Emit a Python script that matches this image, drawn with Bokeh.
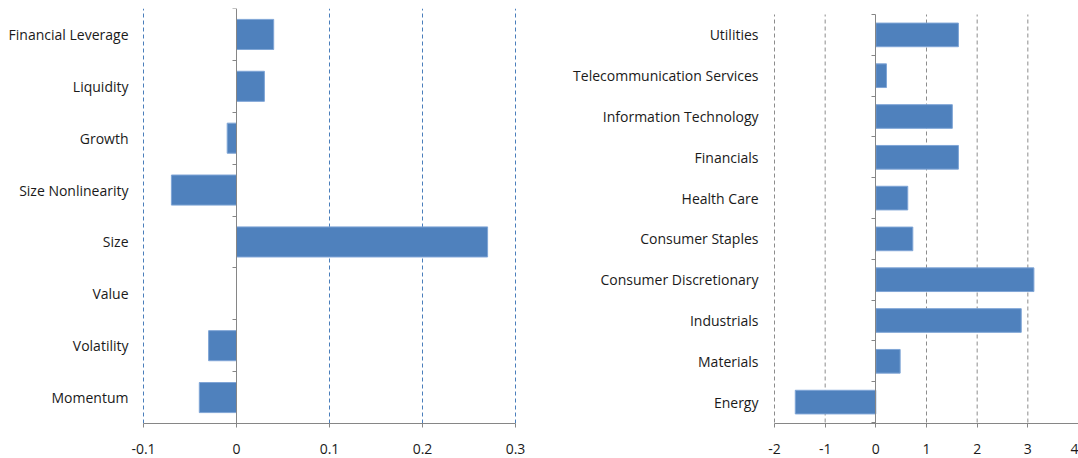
from bokeh.plotting import figure
from bokeh.layouts import row
from bokeh.models import Range1d, LinearAxis, FixedTicker
from bokeh.embed import file_html
from bokeh.resources import INLINE

# Style factor exposures (top to bottom)
factor_names = ["Financial Leverage", "Liquidity", "Growth", "Size Nonlinearity",
                "Size", "Value", "Volatility", "Momentum"]
factor_exposure = [0.04, 0.03, -0.01, -0.07, 0.27, 0.0, -0.03, -0.04]
factor_ticks = [-0.1, 0, 0.1, 0.2, 0.3]
factor_tick_labels = ["-0.1", "0", "0.1", "0.2", "0.3"]

# Sector exposures (top to bottom)
sector_names = ["Utilities", "Telecommunication Services", "Information Technology",
                "Financials", "Health Care", "Consumer Staples",
                "Consumer Discretionary", "Industrials", "Materials", "Energy"]
sector_exposure = [1.63, 0.21, 1.51, 1.63, 0.63, 0.73, 3.12, 2.87, 0.48, -1.59]
sector_ticks = [-2, -1, 0, 1, 2, 3, 4]
sector_tick_labels = ["-2", "-1", "0", "1", "2", "3", "4"]

BAR = "#4F81BD"
BAR_EDGE = "#7FA5D6"
AXIS = "#868686"
TEXT = "#1a1a1a"
FONT = "Open Sans"
FRAME_TOP = 8
FRAME_H = 415
FRAME_BOTTOM = 35


def bar_panel(names, values, ticks, tick_labels, grid_color,
              frame_w, left, right, pad_top, pad_bottom, pad_l, pad_r, label_gap):
    n = len(names)
    # first name sits in the top slot
    centers = [n - i - 0.5 for i in range(n)]
    slot = (FRAME_H - pad_top - pad_bottom) / n
    y0 = -pad_bottom / slot
    y1 = n + pad_top / slot
    # a pixel of room either side so the edge gridlines are not clipped
    unit = (ticks[-1] - ticks[0]) / frame_w
    x0 = ticks[0] - pad_l * unit
    x1 = ticks[-1] + pad_r * unit
    p = figure(
        title=None,
        y_range=Range1d(y0, y1),
        x_range=Range1d(x0, x1),
        frame_width=frame_w + pad_l + pad_r, frame_height=FRAME_H,
        min_border_left=left - pad_l, min_border_right=right - pad_r,
        min_border_top=FRAME_TOP, min_border_bottom=FRAME_BOTTOM,
        output_backend="svg", toolbar_location=None,
        background_fill_color="white", border_fill_color="white",
    )
    p.outline_line_color = None
    p.xgrid.grid_line_color = None
    p.ygrid.grid_line_color = None

    # dashed vertical gridlines spanning the category area
    grid_x = [t for t in ticks if t != 0]
    p.segment(x0=grid_x, x1=grid_x, y0=[0] * len(grid_x), y1=[n] * len(grid_x),
              line_color=grid_color, line_dash="4 3", line_width=1)

    p.hbar(y=centers, right=values, left=0, height=0.58,
           fill_color=BAR, line_color=BAR_EDGE, line_width=1)

    # category labels on the left, no line or ticks
    ya = p.yaxis[0]
    ya.ticker = FixedTicker(ticks=centers)
    ya.major_label_overrides = {c: s for c, s in zip(centers, names)}
    ya.axis_line_color = None
    ya.major_tick_line_color = None
    ya.major_tick_out = 0
    ya.major_tick_in = 0
    ya.minor_tick_line_color = None
    ya.minor_tick_out = 0
    ya.major_label_standoff = label_gap - pad_l
    ya.major_label_text_font = FONT
    ya.major_label_text_font_size = "14px"
    ya.major_label_text_color = TEXT

    # value axis along the bottom
    xa = p.xaxis[0]
    xa.ticker = FixedTicker(ticks=ticks)
    xa.bounds = (ticks[0], ticks[-1])
    xa.major_label_overrides = {t: s for t, s in zip(ticks, tick_labels)}
    xa.axis_line_color = AXIS
    xa.major_tick_line_color = AXIS
    xa.major_tick_out = 4
    xa.major_tick_in = 0
    xa.minor_tick_line_color = None
    xa.minor_tick_out = 0
    xa.major_label_standoff = 16
    xa.major_label_text_font = FONT
    xa.major_label_text_font_size = "14px"
    xa.major_label_text_color = TEXT

    # category axis drawn at zero, ticks between categories
    zero_axis = LinearAxis(
        ticker=FixedTicker(ticks=list(range(n + 1))),
        fixed_location=0,
        bounds=(y0, n),
        axis_line_color=AXIS,
        major_tick_line_color=AXIS,
        major_tick_out=4, major_tick_in=0,
        minor_tick_line_color=None,
        major_label_text_font_size="0px",
        major_label_text_alpha=0,
    )
    p.add_layout(zero_axis, "left")
    return p


left = bar_panel(factor_names, factor_exposure, factor_ticks, factor_tick_labels,
                 "#4A7EBB", 372, 143, 25, 0, 0, 1, 1, 15)
right = bar_panel(sector_names, sector_exposure, sector_ticks, sector_tick_labels,
                  "#8C8C8C", 304, 234, 0, 6, 1, 1, 0, 16)

layout = row(left, right)
open("out.html", "w").write(file_html(layout, INLINE))
